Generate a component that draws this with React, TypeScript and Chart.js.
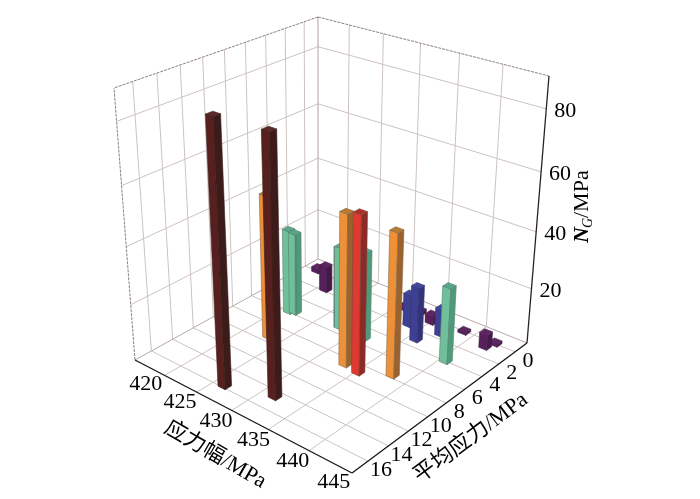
import React, { useEffect, useRef } from "react";
import { Chart, registerables } from "chart.js";

Chart.register(...registerables);

// ---- data: amplitude (MPa), mean stress (MPa), N_G
const darkX = [428.3, 433.6];
const darkY = [15.8, 14.6];
const darkZ = [88, 86];
const orangeX = [425.2, 435.2, 440.3];
const orangeY = [9.4, 8.7, 7.7];
const orangeZ = [51, 53, 50];
const redX = [437.2];
const redY = [8.9];
const redZ = [55];
const greenX = [423.3, 423.9, 429.9, 433.4, 442.9];
const greenY = [5.9, 5.7, 5.2, 5.3, 4.0];
const greenZ = [31, 30, 30, 32, 27];
const blueX = [429.1, 435.4, 437.9, 439.3];
const blueY = [3.3, 1.8, 3.1, 1.4];
const blueZ = [19, 12, 20, 10];
const purpleX = [423.2, 419.5, 432.7, 434.8, 437.0, 437.6, 441.0, 444.5, 445.0];
const purpleY = [1.8, 0, 0.2, 0, 0.5, 0, 0.1, 0.8, 0];
const purpleZ = [10, 2, 1, 1.5, 3.5, 1, 1, 5.6, 1];

const xTicks = [420, 425, 430, 435, 440, 445];
const yTicks = [0, 2, 4, 6, 8, 10, 12, 14, 16];
const zTicks = [20, 40, 60, 80];
const xGrid = [422.1, 426.9, 431.9, 436.9, 442.2];
const yGrid = yTicks;

// ---- axis ranges and projection frame
const X0 = 417.5, X1 = 447.5, Y0 = -1.5, Y1 = 17.5, Z1 = 90;
type P = [number, number];
const floorFrame: P[] = [[318, 259], [527, 343], [352, 473], [135, 360]];
const topFrame: P[] = [[318, 17], [549, 76], [355.5, 173], [114, 88]];

function homography(q: P[]) {
  const [A, B, C, D] = q;
  const dx1 = B[0] - C[0], dx2 = D[0] - C[0], sx = A[0] - B[0] + C[0] - D[0];
  const dy1 = B[1] - C[1], dy2 = D[1] - C[1], sy = A[1] - B[1] + C[1] - D[1];
  const det = dx1 * dy2 - dx2 * dy1;
  const g = (sx * dy2 - dx2 * sy) / det;
  const h = (dx1 * sy - sx * dy1) / det;
  const a = B[0] - A[0] + g * B[0], b = D[0] - A[0] + h * D[0];
  const d = B[1] - A[1] + g * B[1], e = D[1] - A[1] + h * D[1];
  return (u: number, v: number): P => {
    const w = g * u + h * v + 1;
    return [(a * u + b * v + A[0]) / w, (d * u + e * v + A[1]) / w];
  };
}
const hFloor = homography(floorFrame);
const hTop = homography(topFrame);
const project = (u: number, v: number, z: number) => {
  const t = z / Z1;
  const f = t / (1.12 - 0.12 * t);
  const p0 = hFloor(u, v), p1 = hTop(u, v);
  return { x: p0[0] + (p1[0] - p0[0]) * f, y: p0[1] + (p1[1] - p0[1]) * f };
};
const U = (x: number) => (x - X0) / (X1 - X0);
const V = (y: number) => (y - Y0) / (Y1 - Y0);

// ---- datasets
const lineDs = (pts: { x: number; y: number }[], color: string, width: number, dash: number[] = []) => ({
  data: pts, borderColor: color, borderWidth: width, borderDash: dash,
  pointRadius: 0, fill: false, tension: 0, backgroundColor: "transparent",
});
const seg = (a: [number, number, number], b: [number, number, number], c: string, w: number, dash: number[] = []) =>
  lineDs([project(a[0], a[1], a[2]), project(b[0], b[1], b[2])], c, w, dash);

const GRID = "#cdc2c2";
const gridSets: any[] = [];
for (const x of xGrid) {
  gridSets.push(seg([U(x), 0, 0], [U(x), 1, 0], GRID, 1));
  gridSets.push(seg([U(x), 0, 0], [U(x), 0, Z1], GRID, 1));
}
for (const y of yGrid) {
  gridSets.push(seg([0, V(y), 0], [1, V(y), 0], GRID, 1));
  gridSets.push(seg([0, V(y), 0], [0, V(y), Z1], GRID, 1));
}
for (const z of zTicks) {
  gridSets.push(seg([0, 0, z], [1, 0, z], GRID, 1));
  gridSets.push(seg([0, 0, z], [0, 1, z], GRID, 1));
}
gridSets.push(seg([0, 0, 0], [0, 0, Z1], "#b5aaaa", 1.1));
gridSets.push(seg([0, 0, 0], [1, 0, 0], "#b5aaaa", 1));
gridSets.push(seg([0, 0, 0], [0, 1, 0], "#b5aaaa", 1));
gridSets.push(seg([0, 0, Z1], [1, 0, Z1], "#8c8080", 1, [3, 1]));
gridSets.push(seg([0, 0, Z1], [0, 1, Z1], "#8c8080", 1, [3, 1]));
gridSets.push(seg([0, 1, 0], [0, 1, Z1], "#8c8080", 1, [3, 1]));
gridSets.push(seg([0, 1, 0], [1, 1, 0], "#1c1414", 1.3));
gridSets.push(seg([1, 1, 0], [1, 0, 0], "#1c1414", 1.3));
gridSets.push(seg([1, 0, 0], [1, 0, Z1], "#2a2222", 1.3));

type Series = { xs: number[]; ys: number[]; zs: number[]; left: string; right: string; top: string; edge: string };
const series: Series[] = [
  { xs: darkX, ys: darkY, zs: darkZ, left: "#57201e", right: "#3c1b1a", top: "#5c2a28", edge: "#3a1c1a" },
  { xs: orangeX, ys: orangeY, zs: orangeZ, left: "#ee9038", right: "#99622e", top: "#b87a30", edge: "#8a6a48" },
  { xs: redX, ys: redY, zs: redZ, left: "#e03a30", right: "#8c2a26", top: "#ae3028", edge: "#80403a" },
  { xs: greenX, ys: greenY, zs: greenZ, left: "#70bf9b", right: "#4f9a7a", top: "#58a888", edge: "#55806e" },
  { xs: blueX, ys: blueY, zs: blueZ, left: "#3d3f92", right: "#323479", top: "#45479a", edge: "#34366e" },
  { xs: purpleX, ys: purpleY, zs: purpleZ, left: "#57205a", right: "#451a48", top: "#5e2660", edge: "#4a2450" },
];
const DU = 0.017, DV = 0.016;

const poly = (corners: [number, number, number][], fillC: string, edge: string) => {
  const pts = corners.map((c) => project(c[0], c[1], c[2]));
  pts.push(pts[0]);
  return {
    data: pts, backgroundColor: fillC, borderColor: edge, borderWidth: 0.6,
    pointRadius: 0, fill: "shape", tension: 0,
  };
};
const bars: { depth: number; sets: any[] }[] = [];
for (const s of series) {
  s.xs.forEach((xv, i) => {
    const u = U(xv), v = V(s.ys[i]), z = s.zs[i];
    const u0 = u - DU, u1 = u + DU, v0 = v - DV, v1 = v + DV;
    bars.push({
      depth: u + v,
      sets: [
        poly([[u0, v1, 0], [u1, v1, 0], [u1, v1, z], [u0, v1, z]], s.left, s.edge),
        poly([[u1, v1, 0], [u1, v0, 0], [u1, v0, z], [u1, v1, z]], s.right, s.edge),
        poly([[u0, v0, z], [u1, v0, z], [u1, v1, z], [u0, v1, z]], s.top, s.edge),
      ],
    });
  });
}
bars.sort((a, b) => a.depth - b.depth);
const painted = [...gridSets, ...bars.flatMap((b) => b.sets)];
const datasets = painted.slice().reverse(); // Chart.js paints the first dataset last

const SERIF = '"Liberation Serif","Noto Sans CJK SC",serif';

const textPlugin = {
  id: "axisText",
  afterDatasetsDraw(chart: any) {
    const { ctx, scales } = chart;
    const px = (p: { x: number; y: number }): P => [scales.x.getPixelForValue(p.x), scales.y.getPixelForValue(p.y)];
    ctx.save();
    ctx.fillStyle = "#000";
    ctx.textAlign = "center";
    ctx.textBaseline = "middle";
    ctx.font = `22px ${SERIF}`;
    for (const t of xTicks) {
      const [a, b] = px(project(U(t + 0), 1, 0));
      const k = U(t);
      ctx.fillText(String(t), a - 6 + 9 * k, b + 16 + 4 * k);
    }
    for (const t of yTicks) {
      const [a, b] = px(project(1, V(t), 0));
      ctx.fillText(String(t), a + 13, b + 9);
    }
    for (const t of zTicks) {
      const [a, b] = px(project(1, 0, t));
      ctx.fillText(String(t), a + 19, b + 2);
    }
    const rotated = (str: string, x: number, y: number, deg: number) => {
      ctx.save();
      ctx.translate(x, y);
      ctx.rotate((deg * Math.PI) / 180);
      ctx.fillText(str, 0, 0);
      ctx.restore();
    };
    ctx.font = `22px ${SERIF}`;
    rotated("应力幅/MPa", 215, 455, 30);
    rotated("平均应力/MPa", 471, 438, -36.7);
    // N_G / MPa, reading upwards
    ctx.save();
    ctx.translate(582, 243);
    ctx.rotate(-Math.PI / 2);
    ctx.textAlign = "left";
    ctx.font = `italic bold 22px "Liberation Serif",serif`;
    ctx.fillText("N", 0, 0);
    ctx.font = `italic 14px "Liberation Serif",serif`;
    ctx.fillText("G", 15, 6);
    ctx.font = `22px "Liberation Serif",serif`;
    ctx.fillText("/MPa", 25, 0);
    ctx.restore();
    ctx.restore();
  },
};

export default function App() {
  const ref = useRef<HTMLCanvasElement>(null);
  useEffect(() => {
    const chart = new Chart(ref.current!, {
      type: "line",
      data: { datasets: datasets as any },
      options: {
        animation: false,
        responsive: false,
        events: [],
        layout: { padding: 0 },
        plugins: { legend: { display: false }, tooltip: { enabled: false } },
        scales: {
          x: { type: "linear", min: 0, max: 700, display: false },
          y: { type: "linear", min: 0, max: 499, reverse: true, display: false },
        },
      },
      plugins: [textPlugin as any],
    });
    return () => chart.destroy();
  }, []);
  return (
    <canvas
      ref={ref}
      width={700}
      height={499}
      style={{ position: "fixed", left: 0, top: 0, width: 700, height: 499, background: "#fff" }}
    />
  );
}
